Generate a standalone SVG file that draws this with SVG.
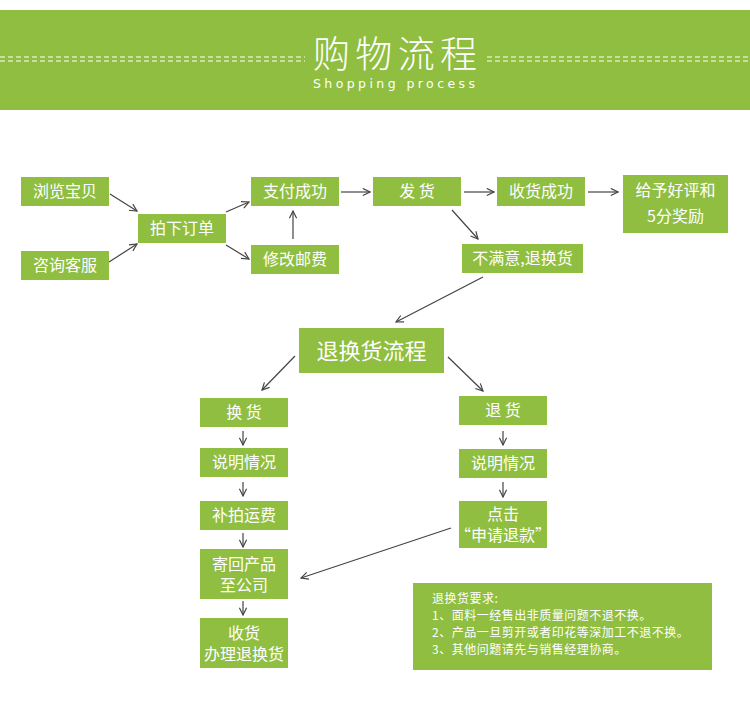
<svg xmlns="http://www.w3.org/2000/svg" width="750" height="702" viewBox="0 0 750 702">
<defs>
<style>
.box{fill:#8fbe41}
.t{fill:#fff;font-family:"Noto Sans CJK SC","Noto Sans",sans-serif;font-size:16px;text-anchor:middle}
.req{fill:#fff;font-family:"Noto Sans CJK SC","Noto Sans",sans-serif;font-size:12px;letter-spacing:0.5px}
.c{stroke:#444;stroke-width:1.2;fill:none;marker-end:url(#ah)}
.dash{stroke:#fff;stroke-width:1;stroke-dasharray:5 3}
</style>
<marker id="ah" viewBox="0 0 10 10" refX="9" refY="5" markerWidth="9" markerHeight="9" markerUnits="userSpaceOnUse" orient="auto">
<path d="M1,1 L9,5 L1,9" fill="none" stroke="#444" stroke-width="1.3"/>
</marker>
</defs>
<rect width="750" height="702" fill="#fff"/>
<g id="header">
<rect x="0" y="10" width="750" height="100" fill="#8fbe41"/>
<line class="dash" x1="0" y1="57" x2="305" y2="57"/>
<line class="dash" x1="0" y1="61" x2="305" y2="61"/>
<line class="dash" x1="487" y1="57" x2="750" y2="57"/>
<line class="dash" x1="487" y1="61" x2="750" y2="61"/>
<text x="313" y="68" fill="#fff" font-family="'Noto Sans CJK SC',sans-serif" font-size="37" font-weight="300" textLength="164" lengthAdjust="spacing">购物流程</text>
<text x="313" y="88" fill="#fff" font-family="'DejaVu Sans',sans-serif" font-size="12.5" textLength="162" lengthAdjust="spacing">Shopping process</text>
</g>
<g id="connectors">
<line class="c" x1="110" y1="194" x2="137" y2="211"/>
<line class="c" x1="109" y1="262" x2="137" y2="244"/>
<line class="c" x1="226" y1="212" x2="249" y2="202"/>
<line class="c" x1="226" y1="245" x2="249" y2="259"/>
<line class="c" x1="293" y1="239" x2="293" y2="211"/>
<line class="c" x1="341" y1="192" x2="370" y2="192"/>
<line class="c" x1="464" y1="192" x2="494" y2="192"/>
<line class="c" x1="588" y1="192" x2="618" y2="192"/>
<line class="c" x1="452" y1="210" x2="478" y2="239"/>
<line class="c" x1="483" y1="277" x2="396" y2="322"/>
<line class="c" x1="295" y1="356" x2="262" y2="390"/>
<line class="c" x1="448" y1="357" x2="483" y2="391"/>
<line class="c" x1="243" y1="431" x2="243" y2="445"/>
<line class="c" x1="243" y1="482" x2="243" y2="496"/>
<line class="c" x1="243" y1="533" x2="243" y2="547"/>
<line class="c" x1="243" y1="601" x2="243" y2="615"/>
<line class="c" x1="503" y1="431" x2="503" y2="445"/>
<line class="c" x1="503" y1="482" x2="503" y2="497"/>
<line class="c" x1="451" y1="528" x2="301" y2="578"/>
</g>
<g id="n-browse"><rect class="box" x="21" y="177" width="88" height="29"/><text class="t" x="65" y="197">浏览宝贝</text></g>
<g id="n-consult"><rect class="box" x="21" y="251" width="88" height="29"/><text class="t" x="65" y="271">咨询客服</text></g>
<g id="n-order"><rect class="box" x="138" y="214" width="88" height="29"/><text class="t" x="182" y="234">拍下订单</text></g>
<g id="n-paid"><rect class="box" x="251" y="177" width="88" height="29"/><text class="t" x="295" y="197">支付成功</text></g>
<g id="n-postage"><rect class="box" x="251" y="245" width="88" height="29"/><text class="t" x="295" y="265">修改邮费</text></g>
<g id="n-ship"><rect class="box" x="373" y="177" width="88" height="29"/><text class="t" x="417" y="197">发  货</text></g>
<g id="n-received"><rect class="box" x="497" y="177" width="88" height="29"/><text class="t" x="541" y="197">收货成功</text></g>
<g id="n-review"><rect class="box" x="623" y="175" width="105" height="58"/><text class="t" x="675.5" y="196">给予好评和</text><text class="t" x="675.5" y="222">5分奖励</text></g>
<g id="n-unhappy"><rect class="box" x="462" y="244" width="121" height="29"/><text class="t" x="522.5" y="264">不满意,退换货</text></g>
<g id="n-return-flow"><rect class="box" x="299" y="328" width="145" height="45"/><text class="t" x="371.5" y="359" style="font-size:22px">退换货流程</text></g>
<g id="n-exchange"><rect class="box" x="200" y="398" width="88" height="29"/><text class="t" x="244" y="418">换  货</text></g>
<g id="n-refund"><rect class="box" x="459" y="396" width="88" height="29"/><text class="t" x="503" y="416">退  货</text></g>
<g id="n-explain-l"><rect class="box" x="200" y="448" width="88" height="29"/><text class="t" x="244" y="468">说明情况</text></g>
<g id="n-explain-r"><rect class="box" x="459" y="449" width="88" height="29"/><text class="t" x="503" y="469">说明情况</text></g>
<g id="n-fee"><rect class="box" x="200" y="501" width="88" height="29"/><text class="t" x="244" y="521">补拍运费</text></g>
<g id="n-apply"><rect class="box" x="459" y="501" width="88" height="47"/><text class="t" x="503" y="520">点击</text><text class="t" x="503" y="541">“申请退款”</text></g>
<g id="n-sendback"><rect class="box" x="200" y="549" width="88" height="50"/><text class="t" x="244" y="570">寄回产品</text><text class="t" x="244" y="591">至公司</text></g>
<g id="n-handle"><rect class="box" x="200" y="618" width="88" height="50"/><text class="t" x="244" y="639">收货</text><text class="t" x="244" y="660">办理退换货</text></g>
<g id="n-requirements"><rect class="box" x="413" y="583" width="299" height="87"/>
<text class="req" x="432" y="603">退换货要求:</text>
<text class="req" x="432" y="620">1、面料一经售出非质量问题不退不换。</text>
<text class="req" x="432" y="637">2、产品一旦剪开或者印花等深加工不退不换。</text>
<text class="req" x="432" y="654">3、其他问题请先与销售经理协商。</text>
</g>
</svg>
